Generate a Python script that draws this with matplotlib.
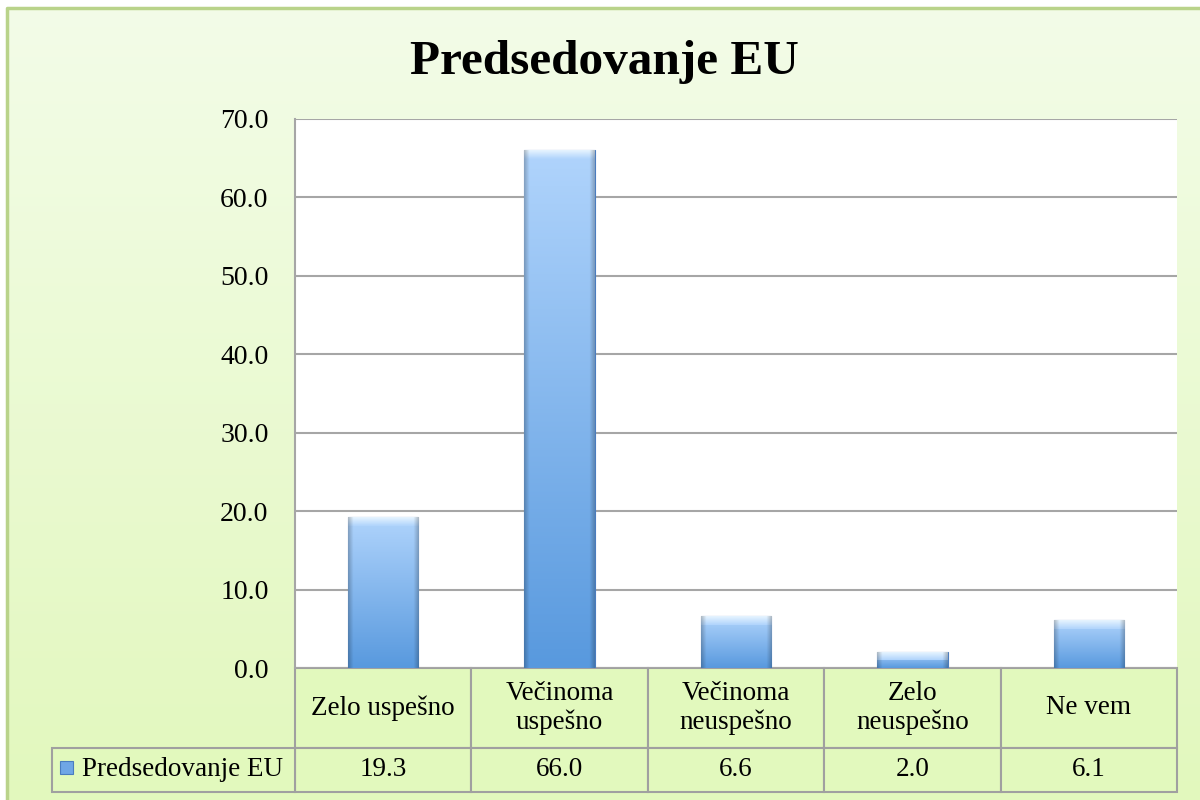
import numpy as np
import matplotlib.pyplot as plt
from matplotlib.colors import to_rgb
from matplotlib.patches import Rectangle
from matplotlib.transforms import Affine2D

# data
categories = ['Zelo uspešno', 'Večinoma\nuspešno', 'Večinoma\nneuspešno', 'Zelo\nneuspešno', 'Ne vem']
values = [19.3, 66.0, 6.6, 2.0, 6.1]
series_name = 'Predsedovanje EU'
title = 'Predsedovanje EU'
yticks = [0, 10, 20, 30, 40, 50, 60, 70]

plt.rcParams['font.family'] = ['Liberation Serif', 'DejaVu Serif']

fig = plt.figure(figsize=(12, 8), dpi=100)
fig.patch.set_facecolor('white')
# pixel coords, origin top left
pix = Affine2D().scale(1/1200, -1/800).translate(0, 1) + fig.transFigure

# green chart area background
bg = fig.add_axes([0, 0, 1, 1], zorder=-10)
bg.set_xlim(0, 1200)
bg.set_ylim(800, 0)
bg.axis('off')
t = np.linspace(0, 1, 256)[:, None, None]
c_top = np.array(to_rgb('#f3fce8'))
c_bot = np.array(to_rgb('#e2f8bd'))
bg.imshow(c_top + (c_bot - c_top) * t, extent=[7, 1200, 800, 8], aspect='auto')
bg.plot([7, 7, 1200], [800, 8, 8], color='#b9d38a', lw=2.5)

# plot area
ax = fig.add_axes([295/1200, 1 - 668/800, 882/1200, 549/800])
x = np.arange(len(values))
bars = ax.bar(x, values, width=0.4, color='#7fb2ea', edgecolor='#4a7cbf', linewidth=0.8, zorder=3)

# bar shading: light top -> darker bottom, darker sides
rows, cols = 200, 60
tv = np.linspace(0, 1, rows)[:, None, None]
top = np.array(to_rgb('#b0d4fc'))
bot = np.array(to_rgb('#5899de'))
shade = top + (bot - top) * tv
u = np.linspace(0, 1, cols)
edge = np.clip(1 - np.minimum(u, 1 - u) / 0.07, 0, 1)
side = (1 - 0.22 * edge)[None, :, None]
bar_img = np.clip(shade * side, 0, 1)
# top bevel highlight
hl = np.linspace(0, 1, 20)[:, None, None]
bevel = np.array(to_rgb('#e6f4ff')) + (top - np.array(to_rgb('#e6f4ff'))) * hl
bevel_img = np.clip(bevel * side, 0, 1)
bevel_h = 9 * 70 / 549  # ~9 px in data units
for b in bars:
    x0, w, h = b.get_x(), b.get_width(), b.get_height()
    im = ax.imshow(bar_img, extent=[x0, x0 + w, 0, h], aspect='auto', zorder=3.5,
                   interpolation='bilinear')
    im.set_clip_path(b)
    im2 = ax.imshow(bevel_img, extent=[x0, x0 + w, h - min(bevel_h, h * 0.5), h], aspect='auto',
                    zorder=3.6, interpolation='bilinear')
    im2.set_clip_path(b)

ax.set_xlim(-0.5, len(values) - 0.5)
ax.set_ylim(0, 70)
ax.set_yticks(yticks)
ax.set_yticklabels([f'{v:.1f}' for v in yticks])
ax.tick_params(axis='y', length=0, pad=19, labelsize=20)
ax.set_xticks([])
ax.grid(axis='y', color='#a6a6a6', lw=1.5)
ax.set_axisbelow(True)
for s in ['top', 'right', 'bottom']:
    ax.spines[s].set_visible(False)
ax.spines['left'].set_color('#a6a6a6')
ax.spines['left'].set_linewidth(1.5)

# data table under the plot
tab = ax.table(cellText=[categories, [f'{v:.1f}' for v in values]], cellLoc='center',
               bbox=[0, -124/549, 1, 124/549])
tab.auto_set_font_size(False)
tab.set_fontsize(19.5)
for (r, c), cell in tab.get_celld().items():
    cell.set_height(80 if r == 0 else 44)
    cell.set_facecolor('#e2f9bd')
    cell.set_edgecolor('#a0a0a0')
    cell.set_linewidth(1.5)
    cell.get_text().set_linespacing(1.2)

leg = ax.table(cellText=[[series_name]], cellLoc='left',
               bbox=[-243/882, -124/549, 243/882, 44/549])
leg.auto_set_font_size(False)
leg.set_fontsize(19.5)
lc = leg[0, 0]
lc.PAD = 30/243
lc.set_facecolor('#e2f9bd')
lc.set_edgecolor('#a0a0a0')
lc.set_linewidth(1.5)
fig.add_artist(Rectangle((60, 761), 13, 13, transform=pix, facecolor='#6fa6e6',
                         edgecolor='#4a7cbf', lw=0.8, zorder=10))

fig.text(604/1200, 1 - 62/800, title, ha='center', va='center',
         fontsize=35.5, fontweight='bold')

fig.savefig('out.png', dpi=100)
